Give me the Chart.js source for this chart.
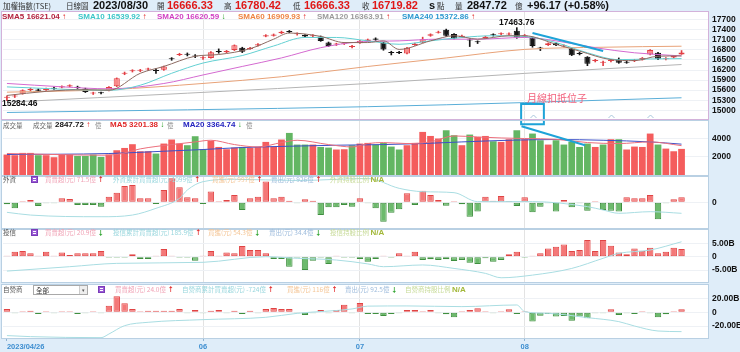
<!DOCTYPE html>
<html>
<head>
<meta charset="utf-8">
<title>加權指數 日線圖</title>
<script src="https://cdn.jsdelivr.net/npm/chart.js@4.4.1/dist/chart.umd.min.js"></script>
<style>
  body { margin: 0; background: #fff; }
  #wrap { position: relative; width: 740px; height: 352px; background: #dfedf9; overflow: hidden;
          font-family: "Liberation Sans", Arial, "Noto Sans CJK TC", sans-serif; }
  .pane { position: absolute; left: 1px; width: 708px; background: #fff; }
  .frame { position: absolute; left: 1px; width: 708px; box-sizing: border-box; border: 1px solid #b9d0e3; pointer-events: none; }
  canvas { position: absolute; left: 0; }
  .t { position: absolute; white-space: nowrap; line-height: 1; }
  .cjk { font-family: "Noto Sans CJK TC", sans-serif; }
  .tt { font-size: 7.5px; color: #333; top: 2px; }
  .tn { font-size: 11px; font-weight: bold; color: #111; top: 0px; }
  .red { color: #e01818; }
  .sm { font-size: 8px; font-weight: bold; top: 13px; }
  .hc { font-size: 6.5px; }
  .hn { font-size: 8px; font-weight: bold; }
  .up { color: #e02020; font-weight: bold; }
  .dn { color: #1a9a1a; font-weight: bold; }
  .icon { position: absolute; width: 7px; height: 7px; background: #9b5bd6; border: 1px solid #7a3cb8; box-sizing: border-box; }
  .icon i { display: block; height: 1px; background: #fff; margin: 1px 1px 0 1px; }
</style>
</head>
<body>
<div id="wrap">
  <div class="pane" style="top:11px;height:108px"></div>
  <div class="pane" style="top:120px;height:55px"></div>
  <div class="pane" style="top:176px;height:52px"></div>
  <div class="pane" style="top:229px;height:53px"></div>
  <div class="pane" style="top:284px;height:54px"></div>

  <canvas id="cPrice" width="740" height="108" style="top:11px;width:740px;height:108px"></canvas>
  <canvas id="cVol" width="740" height="55" style="top:120px;width:740px;height:55px"></canvas>
  <canvas id="cFor" width="740" height="52" style="top:176px;width:740px;height:52px"></canvas>
  <canvas id="cTrust" width="740" height="53" style="top:229px;width:740px;height:53px"></canvas>
  <canvas id="cDealer" width="740" height="68" style="top:284px;width:740px;height:68px"></canvas>

  <div class="frame" style="top:11px;height:109px;border-color:#d3b2da"></div>
  <div class="frame" style="top:120px;height:56px"></div>
  <div class="frame" style="top:176px;height:53px"></div>
  <div class="frame" style="top:229px;height:54px"></div>
  <div class="frame" style="top:284px;height:55px"></div>

  <!-- title row -->
  <span class="t cjk tt" style="left:3px">加權指數(TSE)</span>
  <span class="t cjk tt" style="left:66px">日線圖</span>
  <span class="t tn" style="left:93px">2023/08/30</span>
  <span class="t cjk tt" style="left:157px">開</span>
  <span class="t tn red" style="left:167px">16666.33</span>
  <span class="t cjk tt" style="left:224px">高</span>
  <span class="t tn red" style="left:235px">16780.42</span>
  <span class="t cjk tt" style="left:293px">低</span>
  <span class="t tn red" style="left:304px">16666.33</span>
  <span class="t cjk tt" style="left:362px">收</span>
  <span class="t tn red" style="left:372px">16719.82</span>
  <span class="t tn" style="left:429px">s</span>
  <span class="t cjk tt" style="left:437px">點</span>
  <span class="t cjk tt" style="left:455px">量</span>
  <span class="t tn" style="left:467px">2847.72</span>
  <span class="t cjk tt" style="left:515px">億</span>
  <span class="t tn" style="left:527px">+96.17 (+0.58%)</span>

  <!-- SMA legend -->
  <span class="t sm" style="left:2px;color:#b3223e">SMA5 16621.04 <span class="up">↑</span></span>
  <span class="t sm" style="left:78px;color:#3cc6c8">SMA10 16539.92 <span class="up">↑</span></span>
  <span class="t sm" style="left:157px;color:#d03fc2">SMA20 16620.59 <span class="dn">↓</span></span>
  <span class="t sm" style="left:238px;color:#ee8442">SMA60 16909.93 <span class="up">↑</span></span>
  <span class="t sm" style="left:317px;color:#9a9a9a">SMA120 16363.91 <span class="up">↑</span></span>
  <span class="t sm" style="left:402px;color:#2c98d0">SMA240 15372.86 <span class="up">↑</span></span>

  <!-- volume header -->
  <span class="t cjk hc" style="left:3px;top:122px;color:#666">成交量</span>
  <span class="t cjk hc" style="left:33px;top:122px;color:#666">成交量</span>
  <span class="t hn" style="left:55px;top:121px;color:#111">2847.72 <span class="up">↑</span></span>
  <span class="t cjk hc" style="left:95px;top:122px;color:#888">億</span>
  <span class="t hn" style="left:110px;top:121px;color:#e02828">MA5 3201.38 <span class="dn">↓</span></span>
  <span class="t cjk hc" style="left:167px;top:122px;color:#888">億</span>
  <span class="t hn" style="left:183px;top:121px;color:#2424c0">MA20 3364.74 <span class="dn">↓</span></span>
  <span class="t cjk hc" style="left:246px;top:122px;color:#888">億</span>

  <!-- foreign header -->
  <span class="t cjk hc" style="left:3px;top:176px;color:#555">外資</span>
  <div class="icon" style="left:31px;top:176px"><i></i><i></i></div>
  <span class="t cjk hc" style="left:45px;top:176px;color:#f0a3b6">買賣超(元) 71.5億 <span class="up">↑</span></span>
  <span class="t cjk hc" style="left:113px;top:176px;color:#98d6dd">外資累計買賣超(元)-1099億 <span class="up">↑</span></span>
  <span class="t cjk hc" style="left:212px;top:176px;color:#f4c595">買進(元) 997億 <span class="up">↑</span></span>
  <span class="t cjk hc" style="left:271px;top:176px;color:#9dbbdc">賣出(元) 926億 <span class="up">↑</span></span>
  <span class="t cjk hc" style="left:330px;top:176px;color:#c6da96">外資持股比例 <b style="color:#a3b83a;font-family:'Liberation Sans';font-size:8px">N/A</b></span>

  <!-- trust header -->
  <span class="t cjk hc" style="left:3px;top:229px;color:#555">投信</span>
  <div class="icon" style="left:31px;top:229px"><i></i><i></i></div>
  <span class="t cjk hc" style="left:45px;top:229px;color:#f0a3b6">買賣超(元) 20.9億 <span class="dn">↓</span></span>
  <span class="t cjk hc" style="left:113px;top:229px;color:#98d6dd">投信累計買賣超(元) 185.9億 <span class="up">↑</span></span>
  <span class="t cjk hc" style="left:208px;top:229px;color:#f4c595">買進(元) 54.3億 <span class="dn">↓</span></span>
  <span class="t cjk hc" style="left:269px;top:229px;color:#9dbbdc">賣出(元) 34.4億 <span class="dn">↓</span></span>
  <span class="t cjk hc" style="left:330px;top:229px;color:#c6da96">投信持股比例 <b style="color:#a3b83a;font-family:'Liberation Sans';font-size:8px">N/A</b></span>

  <!-- dealer header -->
  <span class="t cjk hc" style="left:3px;top:286px;color:#555">自營商</span>
  <div style="position:absolute;left:33px;top:285px;width:55px;height:10px;box-sizing:border-box;border:1px solid #a9a9a9;background:#fff">
    <span class="t cjk" style="left:2px;top:1px;font-size:6.5px;color:#333">全部</span>
    <span style="position:absolute;right:0;top:0;width:7px;height:8px;background:#eee;border-left:1px solid #ccc;font-size:5px;line-height:8px;text-align:center;color:#555">▾</span>
  </div>
  <div class="icon" style="left:98px;top:286px"><i></i><i></i></div>
  <span class="t cjk hc" style="left:115px;top:286px;color:#f0a3b6">買賣超(元) 24.0億 <span class="up">↑</span></span>
  <span class="t cjk hc" style="left:182px;top:286px;color:#98d6dd">自營商累計買賣超(元) -724億 <span class="up">↑</span></span>
  <span class="t cjk hc" style="left:287px;top:286px;color:#f4c595">買進(元) 116億 <span class="up">↑</span></span>
  <span class="t cjk hc" style="left:345px;top:286px;color:#9dbbdc">賣出(元) 92.5億 <span class="dn">↓</span></span>
  <span class="t cjk hc" style="left:405px;top:286px;color:#c6da96">自營商持股比例 <b style="color:#a3b83a;font-family:'Liberation Sans';font-size:8px">N/A</b></span>
</div>

<script>
// trading days shown (2023)
var aprDays = [26, 27, 28];
var mayDays = [2, 3, 4, 5, 8, 9, 10, 11, 12, 15, 16, 17, 18, 19, 22, 23, 24, 25, 26, 29, 30, 31];
var junDays = [1, 2, 5, 6, 7, 8, 9, 12, 13, 14, 15, 16, 19, 20, 21, 26, 27, 28, 29, 30];
var julDays = [3, 4, 5, 6, 7, 10, 11, 12, 13, 14, 17, 18, 19, 20, 21, 24, 25, 26, 27, 28, 31];
var augDays = [1, 2, 4, 7, 8, 9, 10, 11, 14, 15, 16, 17, 18, 21, 22, 23, 24, 25, 28, 29, 30];
var blankDays = ['2023/08/31', '2023/09/01', '2023/09/04'];   // empty room at the right

var tickIdx = [0, 25, 45, 66];
var tickText = ['2023/04/26', '06', '07', '08'];
var monthIdx = [25, 45, 66];

// index OHLC
var open = [15375,15410,15495,15605,15620,15600,15660,15680,15710,15700,
            15647,15500,15525,15595,15717,16090,16165,16175,16215,16190,
            16205,16545,16650,16675,16625,16550,16562,16760,16730,16794,
            16867,16830,16930,17200,17225,17300,17360,17265,17245,17210,
            17202,17020,16958,16980,16890,17000,17060,17140,17020,16725,
            16730,16694,16950,17020,17220,17315,17404,17273,17185,17100,
            17050,17150,17255,17265,17262,17374,17210,17171,16860,16945,
            16995,16905,16837,16695,16593,16470,16420,16470,16511,16440,
            16470,16505,16663,16715,16525,16575,16666.33];
var high = [15430,15470,15610,15660,15640,15660,15690,15730,15760,15720,
            15660,15540,15545,15710,15965,16140,16210,16220,16260,16240,
            16320,16570,16700,16710,16660,16600,16750,16830,16785,16950,
            16880,16880,16985,17255,17275,17360,17380,17310,17260,17255,
            17215,17035,17000,17020,16935,17085,17125,17160,17030,16760,
            16760,16880,17000,17180,17280,17360,17420,17290,17240,17130,
            17070,17210,17280,17310,17310,17463.76,17260,17185,16880,17010,
            17010,16950,16850,16730,16600,16520,16470,16520,16560,16470,
            16520,16575,16810,16730,16570,16630,16780.42];
var low = [15284.46,15380,15480,15580,15560,15590,15620,15665,15700,15650,
           15530,15470,15490,15580,15705,16060,16140,16150,16190,16100,
           16190,16490,16630,16620,16570,16520,16550,16700,16715,16780,
           16720,16815,16915,17190,17210,17285,17310,17240,17185,17190,
           17055,16900,16930,16960,16860,16990,17050,17085,16790,16650,
           16690,16680,16935,17010,17205,17300,17200,17130,17170,16900,
           16990,17140,17210,17245,17240,17145,17190,16880,16780,16930,
           16925,16880,16630,16650,16330,16440,16330,16440,16400,16400,
           16450,16495,16650,16510,16505,16560,16666.33];
var close = [15395,15430,15595,15625,15580,15635,15645,15715,15745,15665,
             15545,15515,15505,15697,15952,16110,16185,16195,16235,16170,
             16306,16525,16670,16655,16605,16570,16733,16740,16765,16937,
             16745,16860,16965,17240,17260,17345,17325,17285,17200,17230,
             17069,16916,16978,17000,16910,17070,17110,17100,16810,16705,
             16710,16867,16985,17120,17265,17335,17221,17141,17220,17080,
             17030,17190,17235,17285,17282,17171,17230,16916,16840,16995,
             16940,16925,16642,16675,16390,16490,16440,16490,16420,16420,
             16490,16560,16794,16540,16545,16623.65,16719.82];

// moving averages: [day index, value]
var sma5Pts = [[0,15442],[5,15564],[10,15615],[13,15595],[17,16103],[20,16307],[24,16612],[27,16663],[31,16836],
               [34,17120],[36,17303],[40,17202],[43,17019],[46,17019],[48,17070],[50,16815],[54,17070],[57,17222],
               [60,17120],[64,17222],[66,17222],[70,16968],[73,16764],[77,16510],[80,16480],[83,16612],[86,16621]];
var sma10Pts = [[0,15697],[13,15595],[17,15747],[21,16103],[25,16409],[30,16632],[34,16917],[38,17171],[42,17171],
                [46,17070],[50,16968],[54,17070],[58,17171],[62,17222],[66,17202],[70,17019],[74,16714],[78,16510],
                [82,16530],[86,16540]];
var sma20Pts = [[0,15800],[7,15700],[13,15640],[20,15798],[25,16053],[30,16307],[35,16561],[40,16866],[45,17039],
                [50,17070],[55,17120],[60,17120],[66,17171],[70,17070],[75,16866],[80,16714],[86,16621]];
var sma60Pts = [[0,15540],[13,15615],[25,15800],[35,16000],[46,16306],[56,16560],[66,16815],[76,16880],[86,16910]];
var sma120Pts = [[0,15239],[46,15798],[66,16100],[86,16364]];
var sma240Pts = [[0,14934],[46,15107],[66,15230],[86,15373]];

// volume (億) and its colour (1 = up day)
var volume = [2230,2160,2410,2410,2160,2160,1940,2230,2230,2080,
              2080,2230,1970,2230,2700,2950,3360,2590,2590,2340,
              3430,3870,3430,3250,4230,2810,3720,3060,2810,2990,
              3060,2990,3060,3610,3100,3870,4590,3320,3320,3320,
              3060,2990,2780,2810,3250,3430,3500,3320,3500,3100,
              2780,3250,3500,4700,4260,3980,4880,4340,3250,4410,
              4150,4260,3680,3610,3900,4880,3900,4520,3790,3320,
              3790,3320,3610,3060,3430,3060,3320,3900,3900,2780,
              3100,3060,4520,3320,2880,2590,2848];
var volUp = [1,1,1,1,0,1,1,1,1,0, 0,0,0,1,1,1,1,1,1,0, 1,1,1,0,0,0,1,1,1,1,
             0,1,1,1,1,1,0,0,0,1, 0,0,1,1,0,1,1,0,0,0, 0,1,1,1,1,1,0,0,1,0,
             1,1,0,1,1,0,1,0,0,1, 0,0,0,0,0,1,0,1,0,1, 1,1,1,0,1,1,1];
var volMa5Pts = [[0,2343],[6,2234],[12,2160],[14,2234],[17,2850],[21,3320],[24,3610],[26,3790],[29,3320],[32,3060],
                 [35,3540],[37,3790],[41,3320],[44,3060],[46,3430],[48,3540],[51,3430],[54,3610],[57,4260],[60,4150],
                 [63,4040],[66,3980],[70,3900],[74,3540],[78,3430],[82,3610],[86,3201]];
var volMa20Pts = [[0,2234],[13,2343],[20,2594],[25,2780],[30,2998],[36,3139],[42,3250],[48,3320],[53,3430],
                  [58,3610],[64,3790],[70,3870],[76,3790],[82,3610],[86,3365]];

// institutional net buy/sell
var foreignNet = [-28,-86,10,33,-52,-14,-14,57,48,-38,
                  -38,-38,-62,81,138,233,248,57,57,-24,
                  176,343,214,71,57,-24,153,10,33,105,
                  -110,57,81,296,57,81,24,-14,43,24,
                  -181,-71,-71,-38,-62,57,-14,-86,-276,-148,
                  -100,129,-38,167,105,33,-48,10,-28,-205,
                  -133,81,24,90,19,-52,71,-143,-62,-14,
                  -133,33,-71,-14,-119,10,-110,-119,-133,71,
                  57,57,105,-243,-14,43,71.5];
var foreignCumPts = [[0,-143],[3,-182],[12,-206],[16,-182],[19,-86],[22,57],[23,176],[25,295],[29,329],[37,312],
                     [46,340],[50,200],[53,152],[57,138],[60,10],[67,10],[74,-62],[76,-110],[78,-157],[82,-134],[86,-157]];
var trustNet = [0.4,1.9,2.1,1.25,0.4,1.9,0.4,1.6,0.6,1.25,
                1.25,1.25,2.1,-0.4,-0.25,-0.25,0.9,-0.9,-0.9,0.4,
                2.9,0.4,-0.25,-0.4,-1.5,0.4,2.1,0.4,1.6,1.25,
                4.0,2.5,2.5,1.25,-0.9,-0.9,-3.75,-0.25,-5.0,-1.5,
                -0.25,-2.75,0.4,-0.25,-0.4,-0.9,-1.9,-0.9,0.4,-0.25,
                1.25,0.4,1.9,-1.25,-1.0,-1.25,-1.0,-1.6,-1.25,-2.25,
                -2.75,-0.6,-1.9,-1.25,0.9,1.9,-0.4,0.4,1.25,3.1,
                3.75,4.6,2.1,2.5,6.25,2.1,6.25,4.1,1.6,0.9,
                3.1,2.25,3.4,1.25,1.9,3.4,2.9];
var trustCumPts = [[0,-5.4],[8,-3.75],[14,-2.5],[25,-2.1],[33,0],[37,-0.6],[42,-1.25],[46,-2.7],[48,-3.75],[53,-3.1],
                   [57,-4.4],[61,-6.25],[63,-7.9],[67,-6.9],[72,-4.4],[76,-0.6],[78,1.25],[82,2.5],[86,5.6]];
var dealerNet = [4.9,-1.5,1.5,2.4,-2.4,1,-1,1.5,1,-2.4,
                 -1.5,1,-1,9.7,23.4,13.1,4.9,1.5,2.4,2.4,
                 2.4,2.4,4.9,-1,3.4,-1,2.4,3.4,-1,2.4,
                 -2.4,2.4,-1,4.9,6.3,4.9,4.9,-1,-3.9,-1,
                 3.4,-1,3.4,11.2,-1,13.6,-2.4,-2.4,-5.4,-2.4,
                 -1,3.4,3.4,1.5,3.4,-1,-2.9,-7.3,1.5,3.4,
                 5.8,1,-1.5,1.5,4.4,-2.4,0.5,-13.6,-4.9,-2.4,
                 -6.3,-5.4,-12.2,-6.3,-8.8,-1,-1,4.4,-3.9,-1,
                 -2.4,1,-0.5,-7.3,-2.9,1,4.4];
var dealerCumPts = [[0,-34],[3,-35.5],[12,-37],[13,-31.7],[15,-19.5],[18,-14.6],[25,-10.7],[33,-7.3],[37,-1.5],[44,4.9],
                    [46,9],[51,9.3],[58,8.3],[65,10.7],[66,1],[69,-1.5],[74,-7.8],[78,-13.6],[80,-20],[83,-27.3],[86,-28.2]];

var priceTicks = [15000,15300,15600,15900,16200,16500,16800,17100,17400,17700];
var volTicks = [2000, 4000];
var foreignTicks = [0];
var trustTicks = [-5, 0, 5];
var dealerTicks = [-20, 0, 20];

// "月線扣抵位子" note, in data coordinates
var noteIdx = 67;
var caretIdx = [67, 77, 82];
var noteText = '月線扣抵位子';
var notePos = [66.3, 15367];
var noteBoxTop = 15189;      // price
var noteBoxBottom = 5537;    // volume
var noteLinePrice = [[67, 17304], [76, 16768]];
var noteLineVol = [[65.6, 5320], [73.7, 3250]];

// ---------------------------------------------------------------------------
var labels = [];
aprDays.forEach(function(d){ labels.push('2023/04/' + ('0' + d).slice(-2)); });
mayDays.forEach(function(d){ labels.push('2023/05/' + ('0' + d).slice(-2)); });
junDays.forEach(function(d){ labels.push('2023/06/' + ('0' + d).slice(-2)); });
julDays.forEach(function(d){ labels.push('2023/07/' + ('0' + d).slice(-2)); });
augDays.forEach(function(d){ labels.push('2023/08/' + ('0' + d).slice(-2)); });
labels = labels.concat(blankDays);

var RED = '#f47878', RED_EDGE = '#e04444', GREEN = '#6cba6c', GREEN_EDGE = '#3f8f3f';
var NOTE = '#1ea3d8';

function lineDs(pts, color, w) {
  return {
    type: 'line',
    data: pts.map(function(p){ return { x: labels[p[0]], y: p[1] }; }),
    borderColor: color, borderWidth: w || 1, pointRadius: 0,
    cubicInterpolationMode: 'monotone', fill: false
  };
}

function netBars(vals) {
  return {
    type: 'bar', data: vals,
    backgroundColor: vals.map(function(v){ return v >= 0 ? RED : GREEN; }),
    borderColor: vals.map(function(v){ return v >= 0 ? RED_EDGE : GREEN_EDGE; }),
    borderWidth: 1, borderSkipped: false, minBarLength: 1,
    categoryPercentage: 1, barPercentage: 0.82
  };
}

function panelOpts(yMin, yMax, yTicks, fmt, withX) {
  return {
    responsive: false, animation: false, events: [],
    layout: { padding: { left: 3, right: 0, top: 0, bottom: 0 } },
    plugins: { legend: { display: false }, tooltip: { enabled: false } },
    scales: {
      x: {
        offset: true,
        afterFit: function(s){ s.height = withX ? 14 : 0; s.paddingLeft = 0; s.paddingRight = 0; },
        grid: {
          offset: false, drawTicks: withX, tickLength: 3,
          color: function(c){ return monthIdx.indexOf(c.index) >= 0 ? '#e3e3e3' : 'rgba(0,0,0,0)'; },
          tickColor: function(c){ return tickIdx.indexOf(c.index) >= 0 ? '#8fb4d2' : 'rgba(0,0,0,0)'; }
        },
        border: { display: false },
        ticks: {
          display: withX, autoSkip: false, maxRotation: 0, minRotation: 0, align: 'inner', padding: 1,
          color: '#3d8ed0', font: { size: 7.5, weight: 'bold', family: 'Liberation Sans' },
          callback: function(v, i){ var k = tickIdx.indexOf(i); return k < 0 ? '' : tickText[k]; }
        }
      },
      y: {
        position: 'right', min: yMin, max: yMax,
        afterFit: function(s){ s.width = 31; s.paddingTop = 0; s.paddingBottom = 0; },
        afterBuildTicks: function(s){ s.ticks = yTicks.map(function(v){ return { value: v }; }); },
        grid: { color: '#eef1f5', drawTicks: false },
        border: { display: false },
        ticks: { autoSkip: false, padding: 3, color: '#111',
                 font: { size: 8.5, weight: 'bold', family: 'Liberation Sans' }, callback: fmt }
      }
    }
  };
}

// ---- price panel
var isUp = close.map(function(c, i){ return c >= open[i]; });
var bodyFill = isUp.map(function(u){ return u ? '#f88a8a' : '#151515'; });
var bodyEdge = isUp.map(function(u){ return u ? '#e23e44' : '#151515'; });

var pricePlugin = {
  id: 'priceNotes',
  afterDatasetsDraw: function(chart) {
    var c = chart.ctx, x = chart.scales.x, y = chart.scales.y, a = chart.chartArea;
    c.save();
    // high / low labels
    var hi = high.indexOf(Math.max.apply(null, high));
    var lo = low.indexOf(Math.min.apply(null, low));
    c.fillStyle = '#111';
    c.font = 'bold 8.5px "Liberation Sans"';
    c.textAlign = 'center'; c.textBaseline = 'bottom';
    c.fillText(high[hi].toFixed(2), x.getPixelForValue(hi), y.getPixelForValue(high[hi]) - 1);
    c.textAlign = 'left'; c.textBaseline = 'top';
    c.fillText(low[lo].toFixed(2), x.getPixelForValue(lo) - 5, y.getPixelForValue(low[lo]) - 1);
    // carets at the bottom
    c.strokeStyle = '#a8c6dc'; c.lineWidth = 1;
    caretIdx.forEach(function(i){
      var px = Math.round(x.getPixelForValue(i)) + 0.5;
      c.beginPath();
      c.moveTo(px - 3, a.bottom - 1); c.lineTo(px, a.bottom - 4); c.lineTo(px + 3, a.bottom - 1);
      c.stroke();
    });
    // note box (upper part), arrow line, text
    c.strokeStyle = NOTE; c.lineWidth = 2;
    var l = x.getPixelForValue(noteIdx - 1.45), r = x.getPixelForValue(noteIdx + 1.45), t = y.getPixelForValue(noteBoxTop);
    c.beginPath();
    c.moveTo(l, a.bottom + 2); c.lineTo(l, t); c.lineTo(r, t); c.lineTo(r, a.bottom + 2);
    c.stroke();
    c.beginPath();
    c.moveTo(x.getPixelForValue(noteLinePrice[0][0]), y.getPixelForValue(noteLinePrice[0][1]));
    c.lineTo(x.getPixelForValue(noteLinePrice[1][0]), y.getPixelForValue(noteLinePrice[1][1]));
    c.stroke();
    c.fillStyle = '#f2607c';
    c.font = '10px "Noto Sans CJK TC"';
    c.textAlign = 'left'; c.textBaseline = 'middle';
    c.fillText(noteText, x.getPixelForValue(notePos[0]), y.getPixelForValue(notePos[1]));
    c.restore();
  }
};

new Chart(document.getElementById('cPrice'), {
  type: 'bar',
  data: {
    labels: labels,
    datasets: [
      lineDs(sma5Pts, '#8d6b62'),
      lineDs(sma10Pts, '#63d0d2'),
      lineDs(sma20Pts, '#d46ad0'),
      lineDs(sma60Pts, '#e8a278'),
      lineDs(sma120Pts, '#b4b4b4'),
      lineDs(sma240Pts, '#5aaed8'),
      { type: 'bar', data: open.map(function(o, i){ return [o, close[i]]; }),
        backgroundColor: bodyFill, borderColor: bodyEdge, borderWidth: 1, borderSkipped: false,
        grouped: false, categoryPercentage: 1, barPercentage: 0.78, minBarLength: 1 },
      { type: 'bar', data: low.map(function(v, i){ return [v, high[i]]; }),
        backgroundColor: bodyEdge, grouped: false, barThickness: 1 }
    ]
  },
  options: panelOpts(14740, 17960, priceTicks, function(v){ return String(v); }, false),
  plugins: [pricePlugin]
});

// ---- volume panel
var volPlugin = {
  id: 'volNotes',
  afterDatasetsDraw: function(chart) {
    var c = chart.ctx, x = chart.scales.x, y = chart.scales.y, a = chart.chartArea;
    c.save();
    c.strokeStyle = NOTE; c.lineWidth = 2;
    var l = x.getPixelForValue(noteIdx - 1.45), r = x.getPixelForValue(noteIdx + 1.45), b = y.getPixelForValue(noteBoxBottom);
    c.beginPath();
    c.moveTo(l, a.top - 2); c.lineTo(l, b); c.lineTo(r, b); c.lineTo(r, a.top - 2);
    c.stroke();
    c.beginPath();
    c.moveTo(x.getPixelForValue(noteLineVol[0][0]), y.getPixelForValue(noteLineVol[0][1]));
    c.lineTo(x.getPixelForValue(noteLineVol[1][0]), y.getPixelForValue(noteLineVol[1][1]));
    c.stroke();
    c.restore();
  }
};

new Chart(document.getElementById('cVol'), {
  type: 'bar',
  data: {
    labels: labels,
    datasets: [
      lineDs(volMa5Pts, '#ec6f7c'),
      lineDs(volMa20Pts, '#3c50c8'),
      { type: 'bar', data: volume,
        backgroundColor: volUp.map(function(u){ return u ? '#f45d5d' : '#63b663'; }),
        categoryPercentage: 1, barPercentage: 0.86 }
    ]
  },
  options: panelOpts(0, 6000, volTicks, function(v){ return String(v); }, false),
  plugins: [volPlugin]
});

// ---- institutional panels
new Chart(document.getElementById('cFor'), {
  type: 'bar',
  data: { labels: labels, datasets: [ lineDs(foreignCumPts, '#a9dde2'), netBars(foreignNet) ] },
  options: panelOpts(-367, 376, foreignTicks, function(){ return '0'; }, false)
});

function bFmt(v){ return v === 0 ? '0' : v.toFixed(2) + 'B'; }

new Chart(document.getElementById('cTrust'), {
  type: 'bar',
  data: { labels: labels, datasets: [ lineDs(trustCumPts, '#a9dde2'), netBars(trustNet) ] },
  options: panelOpts(-9.49, 10.39, trustTicks, bFmt, false)
});

new Chart(document.getElementById('cDealer'), {
  type: 'bar',
  data: { labels: labels, datasets: [ lineDs(dealerCumPts, '#a9dde2'), netBars(dealerNet) ] },
  options: panelOpts(-37.5, 41.3, dealerTicks, bFmt, true)
});
</script>
</body>
</html>
